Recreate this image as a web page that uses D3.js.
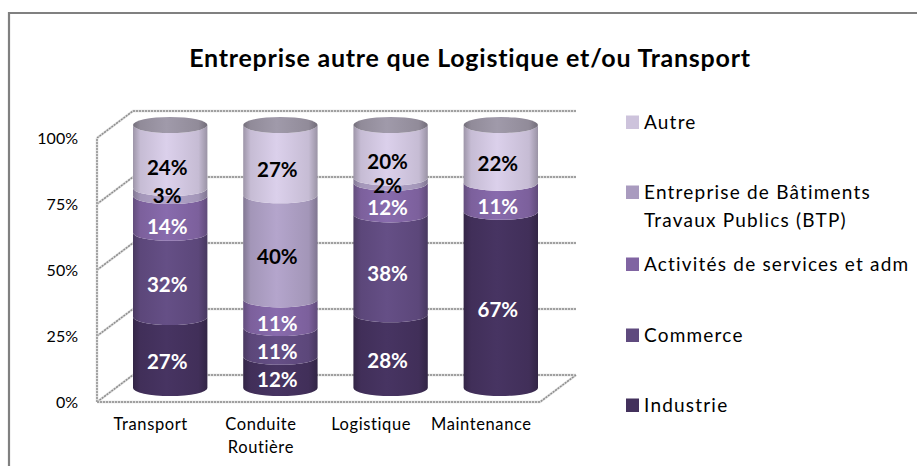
<!DOCTYPE html>
<html>
<head>
<meta charset="utf-8">
<script src="https://cdn.jsdelivr.net/npm/d3@7"></script>
<style>
html,body{margin:0;padding:0;background:#fff;}
svg{display:block;}
text{font-family:Lato,"Open Sans",sans-serif;}
</style>
</head>
<body>
<div id="chart"></div>
<script>
const categories = [['Transport'],['Conduite','Routière'],['Logistique'],['Maintenance']];
const seriesNames = ['Industrie','Commerce','Activités de services et adm','Entreprise de Bâtiments Travaux Publics (BTP)','Autre'];
const industrie = [27,12,28,67];
const commerce = [32,11,38,0];
const activites = [14,11,12,11];
const btp = [3,40,2,0];
const autre = [24,27,20,22];
const ticks = [0,25,50,75,100];
const colors = ['#43315c','#5f4a7e','#8064a2','#a99bbf','#cdc3dc'];
const labelColors = ['#fff','#fff','#fff','#000','#000'];
const legendLines = [['Industrie'],['Commerce'],['Activités de services et adm'],['Entreprise de Bâtiments','Travaux Publics (BTP)'],['Autre']];
const legendY = [405,335,264,192,122];

const _w = 917, _h = 466;
const _svg = d3.select('#chart').append('svg').attr('width',_w).attr('height',_h);

// rows of the stack, one per category
const rows = categories.map((c,i)=>({key:i,vals:[industrie[i],commerce[i],activites[i],btp[i],autre[i]]}));
const stack = d3.stack().keys([0,1,2,3,4]).value((d,k)=>d.vals[k]).offset(d3.stackOffsetExpand);
const layers = stack(rows);

// chart frame, the right and bottom sides are cropped in the picture
_svg.append('path')
	.attr('d',`M9,466V13H917`)
	.style('fill','none').style('stroke','#808080').style('stroke-width','2.2px');

_svg.append('text')
	.attr('x',470).attr('y',67)
	.attr('text-anchor','middle')
	.style('font-weight','bold').style('font-size','25px').style('letter-spacing','0.76px').style('fill','#000')
	.text('Entreprise autre que Logistique et/ou Transport');

// front plane scale (floor edge) and the same ticks pushed back by the depth
const _depth = {x:36, y:-27};
const _scaleFront = d3.scaleLinear().domain([0,100]).range([402,138]);
const _scaleCyl = d3.scaleLinear().domain([0,1]).range([388,125]);
const _scaleX = d3.scaleBand().domain(d3.range(categories.length)).range([133,538]).paddingInner(0.325).paddingOuter(0);
const _xLeft = 97, _xRight = 540;

// walls
const wall = _svg.append('g').attr('class','walls');
function wallLine(d){
	wall.append('path').attr('d',d).style('fill','none').style('stroke','#dcdcdc').style('stroke-width','2.5px');
	wall.append('path').attr('d',d).style('fill','none').style('stroke','#8c8c8c').style('stroke-width','1.4px').style('stroke-dasharray','2 1');
}
ticks.forEach(t=>{
	const y = _scaleFront(t);
	wallLine(`M${_xLeft},${y}L${_xLeft+_depth.x},${y+_depth.y}H${_xRight+_depth.x}`);
});
wallLine(`M${_xLeft},${_scaleFront(0)}V${_scaleFront(100)}`);
wallLine(`M${_xLeft},${_scaleFront(0)}H${_xRight}L${_xRight+_depth.x},${_scaleFront(0)+_depth.y}`);

// y tick labels
_svg.append('g').selectAll('text').data(ticks).enter().append('text')
	.attr('x',78).attr('y',d=>_scaleFront(d)+6)
	.attr('text-anchor','end')
	.style('font-size','16px').style('fill','#000')
	.text(d=>d+'%');

// category labels
const cat = _svg.append('g').selectAll('text').data(categories).enter().append('text')
	.attr('text-anchor','middle')
	.style('font-size','16.5px').style('letter-spacing','0.6px').style('fill','#000');
cat.selectAll('tspan').data((d,i)=>d.map(s=>({s,i}))).enter().append('tspan')
	.attr('x',d=>_scaleX(d.i)+_scaleX.bandwidth()/2-19.5)
	.attr('y',(d,j)=>430+j*23)
	.text(d=>d.s);

// horizontal shading of the cylinders
const defs = _svg.append('defs');
function shade(id,c){
	const base = d3.color(c);
	const g = defs.append('linearGradient').attr('id',id).attr('x1',0).attr('x2',1).attr('y1',0).attr('y2',0);
	[[0,base.darker(0.75)],[0.1,base.darker(0.1)],[0.45,base.brighter(0.18)],[0.88,base.darker(0.1)],[1,base.darker(0.8)]]
		.forEach(s=>g.append('stop').attr('offset',s[0]).attr('stop-color',s[1]));
}
colors.forEach((c,i)=>shade('shade'+i,c));
shade('shadeTop','#96909f');

const _ry = 8;
function side(x0,x1,y0,y1){
	const rx = (x1-x0)/2;
	return `M${x0},${y0}A${rx},${_ry} 0 0 0 ${x1},${y0}V${y1}A${rx},${_ry} 0 0 1 ${x0},${y1}Z`;
}

const bars = _svg.append('g').selectAll('g').data(rows).enter().append('g');
bars.each(function(row,i){
	const g = d3.select(this);
	const x0 = _scaleX(i), x1 = x0+_scaleX.bandwidth();
	const rx = (x1-x0)/2;
	// bottom up so each layer overlaps the one beneath it
	layers.forEach((layer,k)=>{
		if(!row.vals[k]) return;
		const d = layer[i];
		g.append('path')
			.attr('d',side(x0,x1,_scaleCyl(d[0]),_scaleCyl(d[1])))
			.style('fill',`url(#shade${k})`);
	});
	g.append('ellipse')
		.attr('cx',x0+rx).attr('cy',_scaleCyl(1)).attr('rx',rx).attr('ry',_ry)
		.style('fill','url(#shadeTop)');
});

// value labels sit on top of all the cylinders
const labelNudge = {'0-2':3,'0-3':-6,'0-4':1,'1-0':-2,'2-2':-1,'2-3':-4,'2-4':1};
const labels = _svg.append('g');
layers.forEach((layer,k)=>{
	rows.forEach((row,i)=>{
		if(!row.vals[k]) return;
		const d = layer[i];
		labels.append('text')
			.attr('x',_scaleX(i)+_scaleX.bandwidth()/2-3)
			.attr('y',(_scaleCyl(d[0])+_scaleCyl(d[1]))/2+17+(labelNudge[i+'-'+k]||0))
			.attr('text-anchor','middle')
			.style('font-weight','bold').style('font-size','20.5px')
			.style('fill',labelColors[k])
			.text(row.vals[k]+'%');
	});
});

// legend
const legend = _svg.append('g').selectAll('g').data(legendLines).enter().append('g');
legend.append('rect')
	.attr('x',626).attr('width',13).attr('height',13.5)
	.attr('y',(d,i)=>legendY[i]-6.5)
	.style('fill',(d,i)=>colors[i]);
legend.each(function(d,i){
	d3.select(this).selectAll('text').data(d).enter().append('text')
		.attr('x',644)
		.attr('y',(s,j)=>legendY[i]+7+j*28)
		.style('font-size','19px').style('letter-spacing','1.2px').style('fill','#000')
		.text(s=>s);
});
</script>
</body>
</html>
